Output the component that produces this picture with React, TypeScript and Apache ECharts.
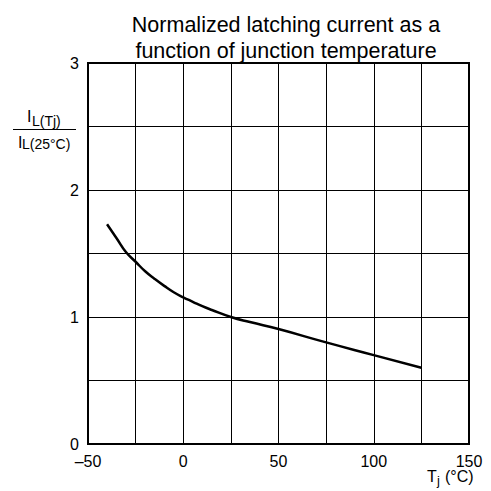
import React, { useEffect, useRef } from "react";
import * as echarts from "echarts";

const temps = [-40, -35, -30, -25, -20, -15, -10, -5, 0, 5, 10, 15, 25, 35, 50, 75, 100, 125];
const ratio = [1.73, 1.62, 1.51, 1.435, 1.36, 1.3, 1.245, 1.195, 1.155, 1.12, 1.085, 1.055, 1.0, 0.96, 0.905, 0.8, 0.7, 0.6];
const titleLines = ["Normalized latching current as a", "function of junction temperature"];
const xLabelValues = [-50, 0, 50, 100, 150];
const yLabelValues = [0, 1, 2, 3];

const FONT = "'Liberation Sans', Arial, sans-serif";

export default function App() {
  const ref = useRef<HTMLDivElement>(null);
  useEffect(() => {
    if (!ref.current) return;
    const chart = echarts.init(ref.current, null, { renderer: "svg" });
    chart.setOption({
      animation: false,
      backgroundColor: "#fff",
      title: {
        text: titleLines.join("\n"),
        left: 281,
        top: 7,
        textAlign: "center",
        textStyle: { fontSize: 21.5, lineHeight: 26, fontWeight: "normal", color: "#000", fontFamily: FONT },
      },
      grid: {
        left: 88,
        right: 22,
        top: 63,
        bottom: 47,
        show: true,
        borderColor: "#000",
        borderWidth: 2,
        backgroundColor: "transparent",
      },
      xAxis: {
        type: "value",
        min: -50,
        max: 150,
        interval: 25,
        axisLine: { show: false },
        axisTick: { show: false },
        splitLine: { show: true, lineStyle: { color: "#000", width: 1 } },
        axisLabel: {
          margin: 9,
          color: "#000",
          fontSize: 16,
          fontFamily: FONT,
          formatter: (v: number) =>
            xLabelValues.includes(v) ? (v < 0 ? "\u2013" + Math.abs(v) : String(v)) : "",
        },
      },
      yAxis: {
        type: "value",
        min: 0,
        max: 3,
        interval: 0.5,
        axisLine: { show: false },
        axisTick: { show: false },
        splitLine: { show: true, lineStyle: { color: "#000", width: 1 } },
        axisLabel: {
          margin: 9,
          color: "#000",
          fontSize: 16,
          fontFamily: FONT,
          formatter: (v: number) => (yLabelValues.includes(v) ? String(v) : ""),
        },
      },
      series: [
        {
          type: "line",
          data: temps.map((t, i) => [t, ratio[i]]),
          smooth: 0.5,
          showSymbol: false,
          lineStyle: { color: "#000", width: 2.5 },
        },
      ],
      graphic: [
        { type: "text", left: 27, top: 108, style: { text: "I", fontSize: 16, fontFamily: FONT, fill: "#000" } },
        { type: "text", left: 32, top: 114, style: { text: "L(Tj)", fontSize: 14, fontFamily: FONT, fill: "#000" } },
        { type: "line", shape: { x1: 13, y1: 129.5, x2: 76, y2: 129.5 }, style: { stroke: "#000", lineWidth: 1 } },
        { type: "text", left: 18, top: 134, style: { text: "I", fontSize: 16, fontFamily: FONT, fill: "#000" } },
        { type: "text", left: 22, top: 137, style: { text: "L(25°C)", fontSize: 14, fontFamily: FONT, fill: "#000" } },
        { type: "text", left: 427, top: 468, style: { text: "T", fontSize: 16, fontFamily: FONT, fill: "#000" } },
        { type: "text", left: 437, top: 474, style: { text: "j", fontSize: 13, fontFamily: FONT, fill: "#000" } },
        { type: "text", left: 445, top: 468, style: { text: "(°C)", fontSize: 16, fontFamily: FONT, fill: "#000" } },
      ],
    });
    return () => chart.dispose();
  }, []);
  return <div ref={ref} style={{ position: "fixed", left: 0, top: 0, width: 491, height: 491 }} />;
}
